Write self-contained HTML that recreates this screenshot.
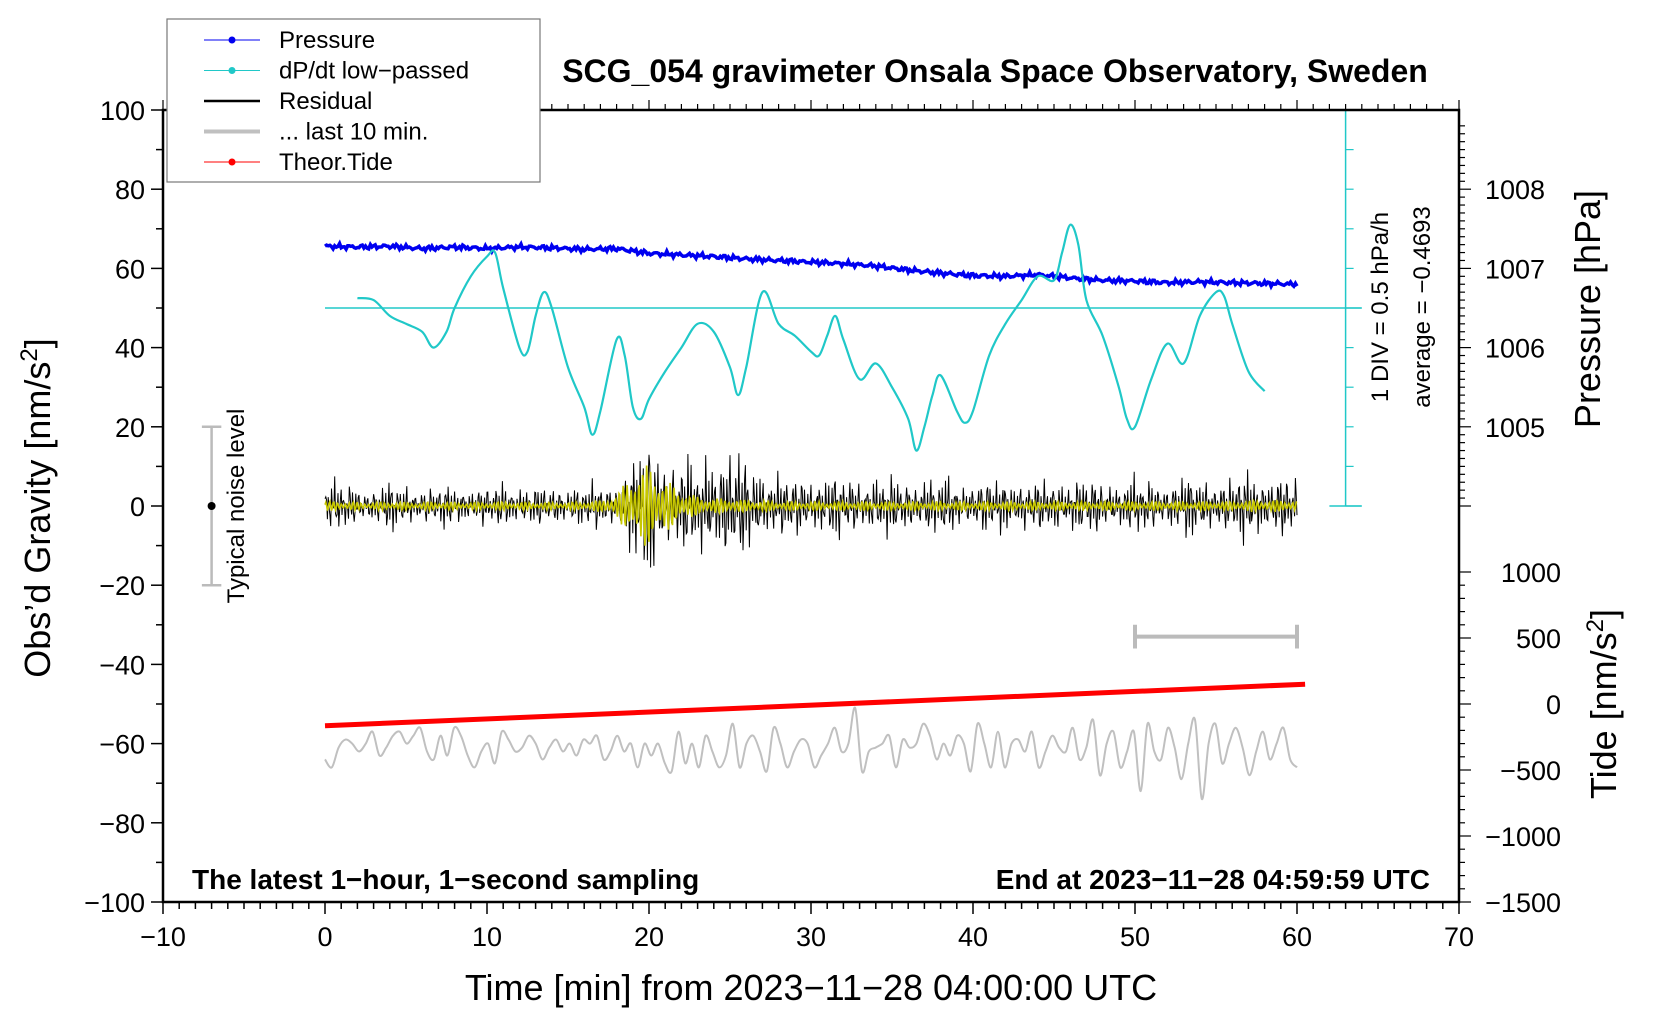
<!DOCTYPE html>
<html><head><meta charset="utf-8">
<style>
html,body{margin:0;padding:0;background:#fff;}
svg{display:block;font-family:"Liberation Sans",Arial,sans-serif;}
</style></head>
<body>
<svg id="chart" width="1660" height="1020" viewBox="0 0 1660 1020" xmlns="http://www.w3.org/2000/svg">
<rect width="1660" height="1020" fill="#fff"/>
<g id="marks"></g>
<g id="axes"></g>
</svg>
<script>
// ---- data ----
const xTicks = [-10,0,10,20,30,40,50,60,70];
const yTicks = [-100,-80,-60,-40,-20,0,20,40,60,80,100];
const pressureTicks = [1005,1006,1007,1008];
const tideTicks = [1000,500,0,-500,-1000,-1500];
// pressure (hPa) sampled every 2 minutes, 0..60
const pressureVals = [1007.28,1007.27,1007.28,1007.25,1007.27,1007.25,1007.27,1007.26,1007.24,1007.25,1007.19,1007.17,1007.15,1007.12,1007.1,1007.08,1007.06,1007.03,1006.98,1006.94,1006.91,1006.9,1006.92,1006.88,1006.85,1006.84,1006.82,1006.83,1006.82,1006.81,1006.8];
// dP/dt low-passed (plot units), minute / value
const dpdtMin = [2,3,4,5,6,6.7,7.5,8,9,10,10.5,11,12,12.5,13,13.5,14,15,16,16.5,17,18,18.5,19,19.5,20,21,22,23,24,25,25.5,26,27,28,29,30,30.5,31,31.5,32,33,34,35,36,36.5,37,37.5,38,39,39.5,40,41,42,43,44,45,45.5,46,46.5,47,48,49,49.5,50,51,52,53,54,55,55.5,56,57,58];
const dpdtVal = [52.5,52,48,46,44,40,44,50,58,63,64,55,40,39,48,54,50,35,25,18,24,42,38,25,22,27,34,40,46,44,35,28,35,54,46,43,39,38,43,48,42,32,36,30,22,14,20,28,33,24,21,24,38,46,52,58,57,64,71,66,52,43,30,22,20,32,41,36,48,54,53,46,34,29];
const dpdtAverage = 50;
// residual amplitude envelope (nm/s^2), per minute 0..60
const residualAmp = [7,7,6,6,7,6,6,6,6,6,6,7,6,6,6,6,6,7,8,14,22,18,15,12,17,20,14,11,10,9,9,10,9,9,9,8,9,9,8,8,8,8,8,8,8,8,8,9,8,8,8,8,8,9,8,9,9,10,10,10,9];
// yellow filtered residual envelope
const filteredAmp = [1.2,1.2,1,1,1.2,1,1,1.2,1,1,1,1.2,1,1,1,1,1.2,1.5,3,9,11,7,4,2.5,2,2,1.5,1.5,1.2,1.2,1.2,1.2,1.2,1.2,1.2,1.2,1.2,1.2,1.2,1.2,1.2,1.2,1.2,1.2,1.2,1.2,1.2,1.2,1.2,1.2,1.2,1.2,1.2,1.2,1.2,1.2,1.2,1.5,1.5,1.5,1.5];
// last 10 minutes, stretched over 0..60 (plot units)
const lastTenVals = [-64,-66,-61,-59,-60,-62,-60,-57,-63,-61,-58,-57,-60,-58,-56,-62,-64,-58,-63,-56,-58,-63,-66,-62,-60,-65,-57,-59,-62,-61,-58,-60,-64,-61,-59,-62,-60,-63,-59,-60,-58,-64,-62,-58,-62,-60,-66,-60,-63,-60,-65,-67,-57,-65,-60,-66,-58,-62,-66,-63,-55,-66,-60,-58,-62,-67,-56,-60,-66,-62,-59,-60,-66,-63,-60,-56,-62,-60,-51,-67,-62,-61,-60,-58,-66,-59,-61,-60,-55,-58,-64,-60,-63,-58,-60,-67,-55,-60,-66,-57,-66,-60,-59,-62,-57,-66,-62,-58,-61,-62,-56,-64,-61,-54,-68,-60,-57,-66,-62,-57,-72,-55,-62,-64,-56,-61,-69,-60,-54,-74,-60,-55,-65,-60,-56,-61,-68,-62,-57,-64,-60,-56,-64,-66];
const tideStart = -55.5, tideEnd = -45;
// ---- scales ----
const X = m => 163 + (m + 10) * 16.2;
const Y = g => 110 + (100 - g) * 3.96;
const presToG = p => 20 * (p - 1004);
const tideToG = t => -50 + t / 30;
const NS = "http://www.w3.org/2000/svg";
const marks = document.getElementById('marks');
const axes = document.getElementById('axes');
function mk(tag, attrs, parent){const e=document.createElementNS(NS,tag);for(const k in attrs)e.setAttribute(k,attrs[k]);(parent||marks).appendChild(e);return e;}
function txt(s, attrs, parent){const e=mk('text',attrs,parent);e.textContent=s;return e;}
function smooth(pts){let d='M'+pts[0][0].toFixed(1)+','+pts[0][1].toFixed(1);
 for(let i=0;i<pts.length-1;i++){const p0=pts[Math.max(0,i-1)],p1=pts[i],p2=pts[i+1],p3=pts[Math.min(pts.length-1,i+2)];
 const c1=[p1[0]+(p2[0]-p0[0])/6,p1[1]+(p2[1]-p0[1])/6],c2=[p2[0]-(p3[0]-p1[0])/6,p2[1]-(p3[1]-p1[1])/6];
 d+='C'+c1[0].toFixed(1)+','+c1[1].toFixed(1)+' '+c2[0].toFixed(1)+','+c2[1].toFixed(1)+' '+p2[0].toFixed(1)+','+p2[1].toFixed(1);}
 return d;}

function carrier(i){const s=Math.sin(i*1.7)*0.5+Math.sin(i*0.63+1)*0.25+Math.sin(i*3.1+2)*0.25;const k=0.6+0.6*Math.abs(Math.sin(i*0.137)*Math.sin(i*0.051+0.5));return s*k;}
function interp(arr,m){const i=Math.max(0,Math.min(arr.length-1.001,m));const a=Math.floor(i);return arr[a]+(arr[a+1]-arr[a])*(i-a);}

// residual black
let d='';
for(let i=0;i<=1200;i++){const m=i*0.05;const v=interp(residualAmp,m)*carrier(i);d+=(i?'L':'M')+X(m).toFixed(1)+','+Y(v).toFixed(1);}
let e=mk('path',{d:d,fill:'none',stroke:'#000','stroke-width':1});


// filtered yellow
d='';
for(let i=0;i<=1200;i++){const m=i*0.05;const v=interp(filteredAmp,m)*Math.sin(i*1.3+0.4)*(0.7+0.3*Math.sin(i*0.21));d+=(i?'L':'M')+X(m).toFixed(1)+','+Y(v).toFixed(1);}
e=mk('path',{d:d,fill:'none',stroke:'#c8c800','stroke-width':1.6});



// grey last 10 min
e=mk('path',{d:smooth(lastTenVals.map((v,i)=>[X(i*60/(lastTenVals.length-1)),Y(v)])),fill:'none',stroke:'#c0c0c0','stroke-width':2});



// red tide
e=mk('line',{x1:X(0),y1:Y(tideStart),x2:X(60.5),y2:Y(tideEnd),stroke:'#f00','stroke-width':5});



// pressure
d='';
for(let i=0;i<=600;i++){const m=i*0.1;const p=interp(pressureVals,m/2)+0.025*Math.sin(i*2.3)*Math.abs(Math.sin(i*0.17))+0.015*Math.sin(i*0.9);d+=(i?'L':'M')+X(m).toFixed(1)+','+Y(presToG(p)).toFixed(1);}
e=mk('path',{d:d,fill:'none',stroke:'#0000f0','stroke-width':3.5});



// dp/dt
e=mk('line',{x1:X(0),y1:Y(dpdtAverage),x2:X(64),y2:Y(dpdtAverage),stroke:'#20c8c8','stroke-width':1.5});


e=mk('path',{d:smooth(dpdtMin.map((m,i)=>[X(m),Y(dpdtVal[i])])),fill:'none',stroke:'#20c8c8','stroke-width':2.2,'stroke-linejoin':'round'});


e=mk('line',{x1:X(63),y1:Y(0),x2:X(63),y2:Y(100),stroke:'#20c8c8','stroke-width':1.5});


for(let g=0;g<=100;g+=10){mk('line',{x1:X(63),y1:Y(g),x2:X(63)+(g%50===0?16:8),y2:Y(g),stroke:'#20c8c8','stroke-width':1.2});}
mk('line',{x1:X(62),y1:Y(0),x2:X(64),y2:Y(0),stroke:'#20c8c8','stroke-width':1.5});
mk('line',{x1:X(62),y1:Y(100),x2:X(64),y2:Y(100),stroke:'#20c8c8','stroke-width':1.5});
e=txt('1 DIV = 0.5 hPa/h',{x:0,y:0,transform:`translate(1388,307) rotate(-90)`,'text-anchor':'middle','font-size':24});


e=txt('average = \u22120.4693',{x:0,y:0,transform:`translate(1430,307) rotate(-90)`,'text-anchor':'middle','font-size':24});



// noise level bar
e=mk('path',{d:`M${X(-7.6)},${Y(20)}H${X(-6.4)}M${X(-7)},${Y(20)}V${Y(-20)}M${X(-7.6)},${Y(-20)}H${X(-6.4)}`,stroke:'#bbb','stroke-width':2.5,fill:'none'});


mk('circle',{cx:X(-7),cy:Y(0),r:4,fill:'#000'});
e=txt('Typical noise level',{x:0,y:0,transform:`translate(244,${Y(0)}) rotate(-90)`,'text-anchor':'middle','font-size':24});


e=mk('path',{d:`M${X(50)},${Y(-30)}V${Y(-36)}M${X(50)},${Y(-33)}H${X(60)}M${X(60)},${Y(-30)}V${Y(-36)}`,stroke:'#bbb','stroke-width':4,fill:'none'});



// ---- axes ----
const L=X(-10),R=X(70),T=Y(100),B=Y(-100);
e=mk('rect',{x:L,y:T,width:R-L,height:B-T,fill:'none',stroke:'#000','stroke-width':2.5},axes);


for(let m=-10;m<=70;m++){const big=m%10===0;mk('line',{x1:X(m),y1:B,x2:X(m),y2:B+(big?12:7),stroke:'#000','stroke-width':1.5},axes);mk('line',{x1:X(m),y1:T,x2:X(m),y2:T-(big?10:6),stroke:'#000','stroke-width':1.2},axes);}
xTicks.forEach(v=>{const t=txt(String(v).replace('-','\u2212'),{x:X(v),y:B+44,'text-anchor':'middle','font-size':27},axes);});
for(let g=-100;g<=100;g+=10){mk('line',{x1:L,y1:Y(g),x2:L-(g%20===0?12:7),y2:Y(g),stroke:'#000','stroke-width':1.5},axes);}
yTicks.forEach(v=>{const t=txt(String(v).replace('-','\u2212'),{x:L-18,y:Y(v)+10,'text-anchor':'end','font-size':27},axes);});
for(let p=1004;p<=1008.9;p+=0.1){const g=presToG(p);if(g<0||g>100)continue;const big=Math.abs(p-Math.round(p))<0.01;mk('line',{x1:R,y1:Y(g),x2:R+(big?12:6),y2:Y(g),stroke:'#000','stroke-width':1.2},axes);}
pressureTicks.forEach(p=>{const t=txt(String(p),{x:R+26,y:Y(presToG(p))+10,'font-size':27},axes);});
for(let tv=-1500;tv<=1000;tv+=100){const big=tv%500===0;mk('line',{x1:R,y1:Y(tideToG(tv)),x2:R+(big?12:6),y2:Y(tideToG(tv)),stroke:'#000','stroke-width':1.2},axes);}
tideTicks.forEach(tv=>{const t=txt(String(tv).replace('-','\u2212'),{x:1561,y:Y(tideToG(tv))+10,'text-anchor':'end','font-size':27},axes);});

// titles
e=txt('SCG_054 gravimeter Onsala Space Observatory, Sweden',{x:995,y:82,'text-anchor':'middle','font-size':32,'font-weight':'bold'},axes);


e=txt('Time [min] from 2023\u221211\u221228 04:00:00 UTC',{x:811,y:1000,'text-anchor':'middle','font-size':36},axes);


e=mk('text',{transform:'translate(50,508) rotate(-90)','text-anchor':'middle','font-size':36},axes);
e.innerHTML='Obs\u2019d Gravity [nm/s<tspan dy="-13" font-size="24">2</tspan><tspan dy="13">]</tspan>';


e=txt('Pressure [hPa]',{transform:'translate(1600,309) rotate(-90)','text-anchor':'middle','font-size':36},axes);


e=mk('text',{transform:'translate(1616,704) rotate(-90)','text-anchor':'middle','font-size':36},axes);
e.innerHTML='Tide [nm/s<tspan dy="-13" font-size="24">2</tspan><tspan dy="13">]</tspan>';


e=txt('The latest 1\u2212hour, 1\u2212second sampling',{x:192,y:889,'font-size':28,'font-weight':'bold'},axes);


e=txt('End at 2023\u221211\u221228 04:59:59 UTC',{x:1430,y:889,'text-anchor':'end','font-size':28,'font-weight':'bold'},axes);



// legend
const lg=mk('g',{},axes);


mk('rect',{x:167,y:19,width:373,height:163,fill:'#fff',stroke:'#777','stroke-width':1.2},lg);
const legNames=['Pressure','dP/dt low\u2212passed','Residual','... last 10 min.','Theor.Tide'];
const legCols=['#0000f0','#20c8c8','#000','#c0c0c0','#f00'];
const legW=[1,1,2.5,4,1];
const legDot=[true,true,false,false,true];
legNames.forEach((n,i)=>{const y=40+i*30.5;const g=mk('g',{},lg);


mk('line',{x1:204,y1:y,x2:260,y2:y,stroke:legCols[i],'stroke-width':legW[i]},g);
if(legDot[i])mk('circle',{cx:232,cy:y,r:3.5,fill:legCols[i]},g);
txt(n,{x:279,y:y+8,'font-size':24},g);});
</script>
</body></html>
